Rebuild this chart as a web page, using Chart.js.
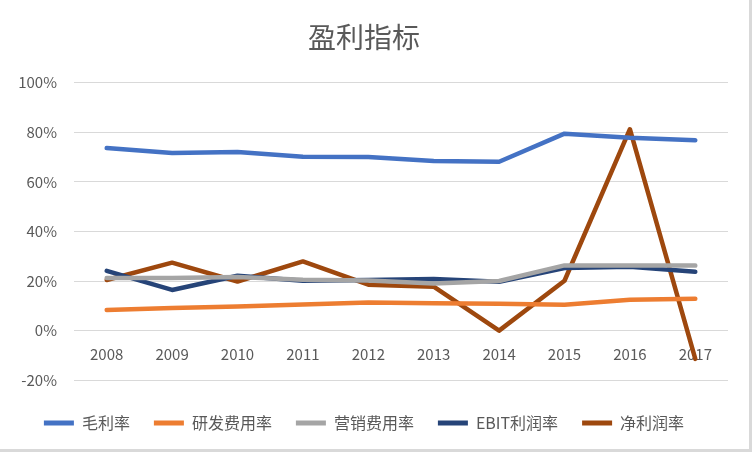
<!DOCTYPE html>
<html><head><meta charset="utf-8">
<script src="https://cdn.jsdelivr.net/npm/chart.js@4"></script>
<style>
html,body{margin:0;padding:0;background:#fff;overflow:hidden;}
#wrap{width:752px;height:452px;position:relative;}
#frame{position:absolute;left:0;top:0;width:752px;height:452px;box-sizing:border-box;border-right:3px solid #d9d9d9;border-bottom:3px solid #d9d9d9;pointer-events:none;}
canvas{display:block;}
</style></head><body>
<div id="wrap"><canvas id="c" width="752" height="452"></canvas><div id="frame"></div></div>
<script>
const years = ['2008','2009','2010','2011','2012','2013','2014','2015','2016','2017'];
const grossMargin = [73.6,71.6,72.0,70.1,70.0,68.4,68.1,79.4,77.8,76.8];
const rdRate = [8.3,9.1,9.7,10.5,11.3,11.0,10.8,10.4,12.4,12.8];
const salesRate = [21.2,21.2,21.6,20.5,20.2,19.0,20.0,26.3,26.3,26.2];
const ebitMargin = [24.1,16.4,22.1,20.1,20.4,20.8,19.7,25.2,25.7,23.7];
const netMargin = [20.4,27.4,19.8,27.9,18.5,17.7,0.0,20.1,81.2,-11.4];
const yTicks = [-20,0,20,40,60,80,100];

const fontFam = '"Microsoft YaHei","Noto Sans CJK SC","DejaVu Sans",sans-serif';
function ds(label, data, color){
  return {label, data, borderColor: color, backgroundColor: color, borderWidth: 4.5,
    pointRadius: 0, tension: 0, fill: false, borderCapStyle:'round', borderJoinStyle:'round'};
}
new Chart(document.getElementById('c'), {
  type: 'line',
  data: {
    labels: years,
    datasets: [
      ds('毛利率', grossMargin, '#4472C4'),
      ds('研发费用率', rdRate, '#ED7D31'),
      ds('营销费用率', salesRate, '#A5A5A5'),
      ds('EBIT利润率', ebitMargin, '#264478'),
      ds('净利润率', netMargin, '#9E480E')
    ]
  },
  options: {
    responsive: false,
    animation: false,
    devicePixelRatio: 1,
    layout: {padding: {left: 0, right: 24, top: 0, bottom: 11}},
    plugins: {
      title: {display: true, text: '盈利指标', color: '#595959',
        font: {family: fontFam, size: 28, weight: 'normal'}, padding: {top: 21, bottom: 28}},
      legend: {position: 'bottom',
        title: {display: true, text: '', font: {size: 9}, padding: 0},
        labels: {color: '#595959', font: {family: fontFam, size: 16}, boxWidth: 30, boxHeight: 5, padding: 24,
          generateLabels(chart){
            return chart.data.datasets.map((d,i)=>({text: d.label, fillStyle: d.borderColor, strokeStyle: d.borderColor, lineWidth: 0, datasetIndex: i, fontColor:'#595959'}));
          }}},
      tooltip: {enabled: false}
    },
    scales: {
      x: {
        position: {y: 0},
        offset: true,
        grid: {display: false, drawTicks: false},
        border: {display: false},
        ticks: {color: '#595959', font: {family: fontFam, size: 15}, padding: 15, maxRotation: 0, autoSkip: false}
      },
      y: {
        min: -20, max: 100,
        afterBuildTicks(s){ s.ticks = yTicks.map(v=>({value:v})); },
        afterFit(s){ s.width = 74; },
        grid: {color: '#d9d9d9', lineWidth: 1, drawTicks: false},
        border: {display: false},
        ticks: {color: '#595959', font: {family: fontFam, size: 15}, padding: 17, callback: v => v + '%'}
      }
    }
  }
});
</script>
</body></html>
